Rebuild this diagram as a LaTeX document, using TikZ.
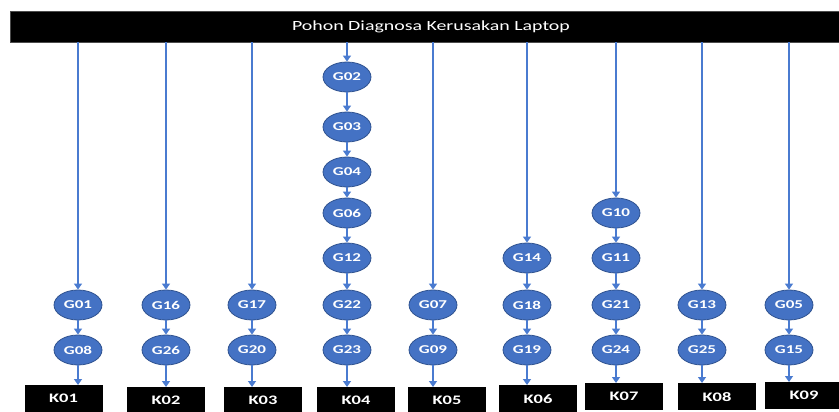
\documentclass[tikz,border=0pt]{standalone}
\usepackage{fontspec}
\setmainfont{Carlito}
\usepackage{graphicx}
\usetikzlibrary{shapes.geometric,arrows.meta}
\definecolor{gfill}{HTML}{4472C4}
\definecolor{gedge}{HTML}{2F528F}
\definecolor{arrc}{HTML}{4A7BD0}
\newcommand\wide[1]{\scalebox{1.42}[1]{#1}}
\begin{document}
\begin{tikzpicture}[x=1pt,y=-1pt,
  gnode/.style={ellipse,fill=gfill,draw=gedge,line width=0.8pt,minimum width=48pt,minimum height=30pt,inner sep=0pt,text=white,font=\fontsize{12}{14}\selectfont\bfseries},
  kbox/.style={rectangle,fill=black,minimum width=78pt,minimum height=27pt,anchor=north,inner sep=0pt,text=white,font=\fontsize{13}{15}\selectfont\bfseries},
  arr/.style={draw=arrc,line width=1.3pt,-{Triangle[width=8pt,length=6pt]}}]
\useasboundingbox (0,0) rectangle (839,412);
\clip (0,0) rectangle (839,412);
\node[fill=black,draw=black!70,minimum width=842pt,minimum height=31pt,inner sep=0pt,text=white,font=\fontsize{14}{16}\selectfont] (bar) at (431,26.5) {\wide{Pohon Diagnosa Kerusakan Laptop}};
% column 1
\node[gnode] (G01) at (78,305) {\wide{G01}};
\node[gnode] (G08) at (78,350) {\wide{G08}};
\node[kbox] (K01) at (63.5,385) {\wide{K01}};
% column 2
\node[gnode] (G16) at (166,305) {\wide{G16}};
\node[gnode] (G26) at (166,350) {\wide{G26}};
\node[kbox] (K02) at (166,387) {\wide{K02}};
% column 3
\node[gnode] (G17) at (252,305) {\wide{G17}};
\node[gnode] (G20) at (252,350) {\wide{G20}};
\node[kbox] (K03) at (263,387) {\wide{K03}};
% column 4
\node[gnode] (G02) at (347,77) {\wide{G02}};
\node[gnode] (G03) at (347,127) {\wide{G03}};
\node[gnode] (G04) at (347,172) {\wide{G04}};
\node[gnode] (G06) at (347,213) {\wide{G06}};
\node[gnode] (G12) at (347,258) {\wide{G12}};
\node[gnode] (G22) at (347,305) {\wide{G22}};
\node[gnode] (G23) at (347,350) {\wide{G23}};
\node[kbox] (K04) at (356,387) {\wide{K04}};
% column 5
\node[gnode] (G07) at (433,305) {\wide{G07}};
\node[gnode] (G09) at (433,350) {\wide{G09}};
\node[kbox] (K05) at (447,387) {\wide{K05}};
% column 6
\node[gnode] (G14) at (527,258) {\wide{G14}};
\node[gnode] (G18) at (527,305) {\wide{G18}};
\node[gnode] (G19) at (527,350) {\wide{G19}};
\node[kbox] (K06) at (538,385) {\wide{K06}};
% column 7
\node[gnode] (G10) at (616,213) {\wide{G10}};
\node[gnode] (G11) at (616,258) {\wide{G11}};
\node[gnode] (G21) at (616,305) {\wide{G21}};
\node[gnode] (G24) at (616,350) {\wide{G24}};
\node[kbox] (K07) at (624,383) {\wide{K07}};
% column 8
\node[gnode] (G13) at (702,305) {\wide{G13}};
\node[gnode] (G25) at (702,350) {\wide{G25}};
\node[kbox] (K08) at (717,383) {\wide{K08}};
% column 9
\node[gnode] (G05) at (789,305) {\wide{G05}};
\node[gnode] (G15) at (789,350) {\wide{G15}};
\node[kbox] (K09) at (804,382) {\wide{K09}};
% connectors
\foreach \a in {G01,G16,G17,G02,G07,G14,G10,G13,G05}
  \draw[arr] (bar.south -| \a) -- (\a);
\foreach \a/\b in {G01/G08,G16/G26,G17/G20,G02/G03,G03/G04,G04/G06,G06/G12,G12/G22,G22/G23,G07/G09,G14/G18,G18/G19,G10/G11,G11/G21,G21/G24,G13/G25,G05/G15}
  \draw[arr] (\a) -- (\b);
\foreach \a/\b in {G08/K01,G26/K02,G20/K03,G23/K04,G09/K05,G19/K06,G24/K07,G25/K08,G15/K09}
  \draw[arr] (\a) -- (\b.north -| \a);
\end{tikzpicture}
\end{document}
